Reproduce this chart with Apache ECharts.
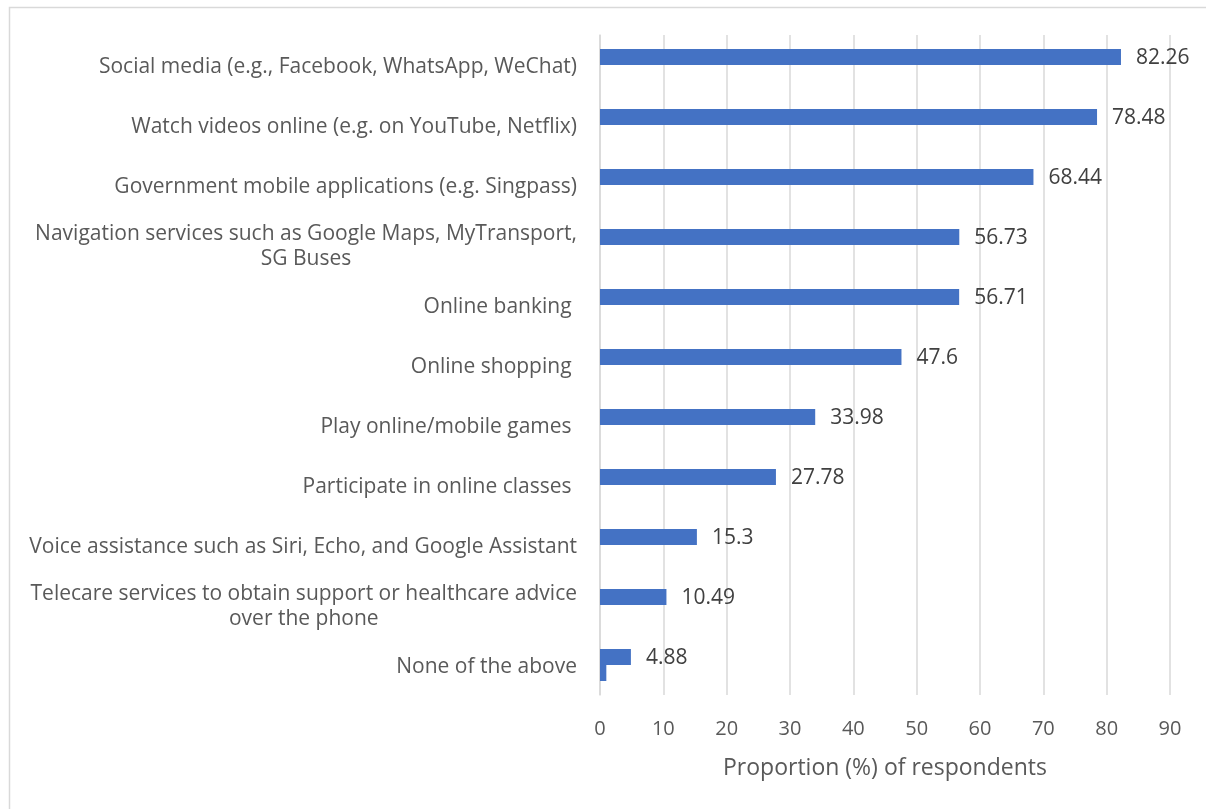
<!DOCTYPE html>
<html>
<head>
<meta charset="utf-8">
<script src="https://cdn.jsdelivr.net/npm/echarts@6/dist/echarts.min.js"></script>
<style>
html,body{margin:0;padding:0;background:#fff;}
#chart{width:1206px;height:809px;}
</style>
</head>
<body>
<div id="chart"></div>
<script>
const categories = [
  "Social media (e.g., Facebook, WhatsApp, WeChat)",
  "Watch videos online (e.g. on YouTube, Netflix)",
  "Government mobile applications (e.g. Singpass)",
  "Navigation services such as Google Maps, MyTransport,\nSG Buses",
  "Online banking ",
  "Online shopping ",
  "Play online/mobile games ",
  "Participate in online classes ",
  "Voice assistance such as Siri, Echo, and Google Assistant",
  "Telecare services to obtain support or healthcare advice\nover the phone",
  "None of the above"
];
const proportions = [82.26, 78.48, 68.44, 56.73, 56.71, 47.6, 33.98, 27.78, 15.3, 10.49, 4.88];
const secondSeries = [null, null, null, null, null, null, null, null, null, null, 1];
const xTicks = [0, 10, 20, 30, 40, 50, 60, 70, 80, 90];

const FONT = "'Open Sans', sans-serif";
const chart = echarts.init(document.getElementById('chart'), null, {renderer: 'canvas'});
chart.setOption({
  backgroundColor: '#ffffff',
  animation: false,
  graphic: [{
    type: 'rect', left: 7, top: 5,
    shape: {width: 1300, height: 900},
    style: {fill: 'none', stroke: '#d9d9d9', lineWidth: 1.5},
    silent: true
  }],
  grid: {left: 600, right: 36, top: 35, bottom: 114, containLabel: false},
  xAxis: {
    type: 'value', min: xTicks[0], max: xTicks[xTicks.length - 1], interval: 10,
    name: 'Proportion (%) of respondents', nameLocation: 'middle', nameGap: 62,
    nameTextStyle: {fontFamily: FONT, fontSize: 23, color: '#595959'},
    axisLine: {show: false}, axisTick: {show: false},
    axisLabel: {fontFamily: FONT, fontSize: 20, color: '#595959', margin: 24},
    splitLine: {show: true, lineStyle: {color: '#d9d9d9', width: 1.5}}
  },
  yAxis: {
    type: 'category', inverse: true, data: categories,
    axisLine: {show: true, lineStyle: {color: '#d9d9d9', width: 1.5}},
    axisTick: {show: false},
    axisLabel: {
      margin: 23,
      formatter: function (v) {
        return v.split('\n').map(function (l) { return '{c|' + l + '}'; }).join('\n');
      },
      rich: {c: {align: 'center', fontFamily: FONT, fontSize: 21, color: '#595959', lineHeight: 25, padding: [4, 0, 0, 0]}}
    }
  },
  series: [{
    type: 'bar', data: proportions, barWidth: 16, barGap: '0%',
    itemStyle: {color: '#4472C4'},
    label: {show: true, position: 'right', distance: 15, fontFamily: FONT, fontSize: 21, color: '#404040', offset: [0, 1]}
  }, {
    type: 'bar', data: secondSeries, barWidth: 16, barGap: '0%',
    itemStyle: {color: '#4472C4'}
  }]
});
</script>
</body>
</html>
